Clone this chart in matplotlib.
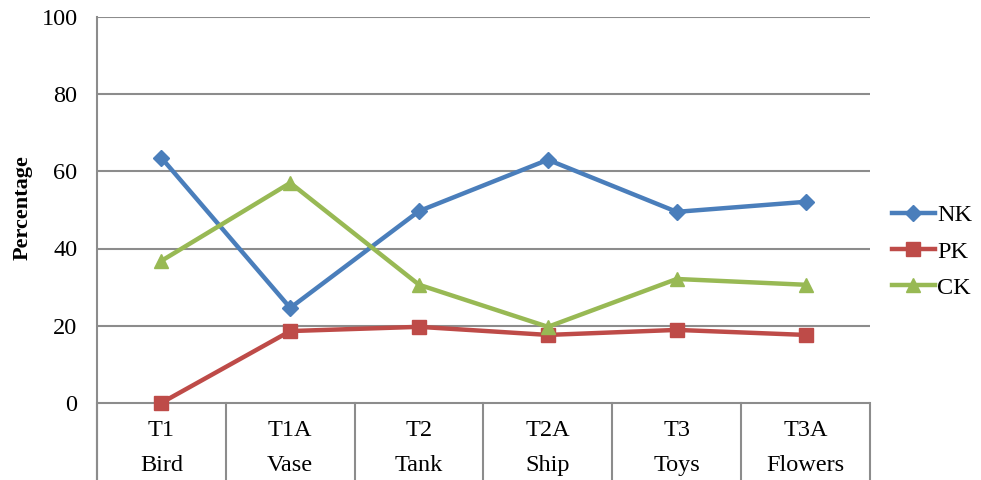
import matplotlib
matplotlib.use("Agg")
import matplotlib.pyplot as plt
import numpy as np

codes = ["T1", "T1A", "T2", "T2A", "T3", "T3A"]
names = ["Bird", "Vase", "Tank", "Ship", "Toys", "Flowers"]
nk = [63.5, 24.6, 49.7, 63.0, 49.5, 52.1]
pk = [0.0, 18.6, 19.7, 17.6, 18.9, 17.6]
ck = [36.8, 57.0, 30.6, 19.7, 32.1, 30.6]
yticks = [0, 20, 40, 60, 80, 100]

plt.rcParams['font.family'] = ['Liberation Serif', 'DejaVu Serif']
fs = 17.5

fig = plt.figure(figsize=(9.81, 4.8), dpi=100)
ax = fig.add_axes([97/981, 0.0, (870-97)/981, 463/480])
ax.set_xlim(0, len(codes))
ax.set_ylim(-20, 100)

grid_c = "#8c8c8c"
for t in yticks:
    ax.axhline(t, color=grid_c, lw=1.5, zorder=1)
# category boxes below the zero line
for k in range(len(codes) + 1):
    ax.plot([k, k], [-20, 0], color=grid_c, lw=1.5, zorder=1, clip_on=False)

x = np.arange(len(codes)) + 0.5
ax.plot(x, nk, color="#4a7ebb", lw=3.2, marker="D", ms=8, zorder=3, label="NK")
ax.plot(x, pk, color="#be4b48", lw=3.2, marker="s", ms=10, zorder=3, label="PK")
ax.plot(x, ck, color="#98b954", lw=3.2, marker="^", ms=10, zorder=3, label="CK")

for i in range(len(codes)):
    ax.text(x[i], -7.2, codes[i], ha="center", va="center", fontsize=fs)
    ax.text(x[i], -16.3, names[i], ha="center", va="center", fontsize=fs)

ax.set_yticks(yticks)
ax.set_yticklabels([str(t) for t in yticks], fontsize=fs)
ax.tick_params(axis="y", length=0, pad=14)
ax.set_xticks([])
for s in ["top", "right", "bottom"]:
    ax.spines[s].set_visible(False)
ax.spines["left"].set_color(grid_c)
ax.spines["left"].set_linewidth(1.5)

ax.text(-0.096, 50.5, "Percentage", rotation=90, ha="center", va="center",
        fontsize=16, fontweight="bold", transform=ax.get_yaxis_transform())

ax.legend(loc="center left", bbox_to_anchor=(1.028, 0.4935), frameon=False,
          fontsize=fs, handlelength=1.77, handletextpad=0.1, labelspacing=0.58,
          borderpad=0, borderaxespad=0)

fig.savefig("out.png", dpi=100)
